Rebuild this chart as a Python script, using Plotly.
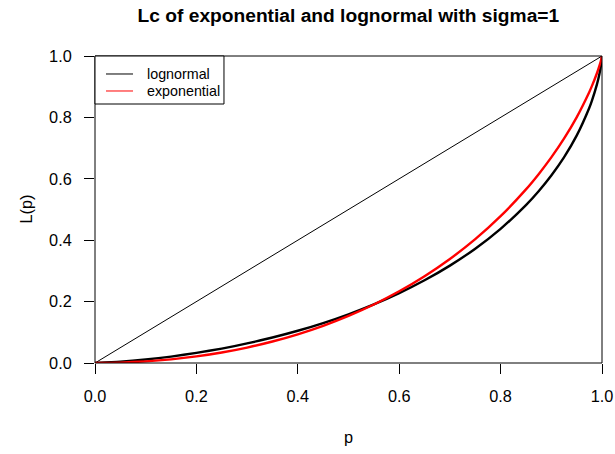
import plotly.graph_objects as go

# Population share p and the Lorenz curve values L(p) for each distribution
p = [0.0, 0.05, 0.1, 0.15, 0.2, 0.25, 0.3, 0.35, 0.4, 0.45, 0.5, 0.55, 0.6,
     0.65, 0.7, 0.75, 0.8, 0.85, 0.875, 0.9, 0.925, 0.95, 0.975, 0.98, 0.99,
     0.995, 0.999, 1.0]
lognormal = [0.0, 0.0041, 0.0113, 0.0209, 0.0328, 0.0470, 0.0637, 0.0830,
             0.1050, 0.1301, 0.1587, 0.1910, 0.2276, 0.2694, 0.3172, 0.3724,
             0.4371, 0.5145, 0.5597, 0.6109, 0.6698, 0.7405, 0.8315, 0.8540,
             0.9076, 0.9425, 0.9817, 1.0]
exponential = [0.0, 0.0013, 0.0052, 0.0119, 0.0215, 0.0342, 0.0503, 0.0700,
               0.0935, 0.1212, 0.1534, 0.1907, 0.2335, 0.2826, 0.3388, 0.4034,
               0.4781, 0.5654, 0.6151, 0.6697, 0.7307, 0.8002, 0.8828, 0.9018,
               0.9439, 0.9685, 0.9921, 1.0]
equality = [0.0, 1.0]

tick_vals = [0.0, 0.2, 0.4, 0.6, 0.8, 1.0]
tick_text = ["0.0", "0.2", "0.4", "0.6", "0.8", "1.0"]

legend_names = ["lognormal", "exponential"]
legend_colors = ["black", "#ff0000"]

FONT = "Liberation Sans, Arial, Helvetica, sans-serif"
AXIS_SIZE = 16.3

fig = go.Figure()

# line of perfect equality
fig.add_trace(go.Scatter(x=equality, y=equality, mode="lines",
                         line=dict(color="black", width=1),
                         showlegend=False, hoverinfo="skip"))
fig.add_trace(go.Scatter(x=p, y=lognormal, mode="lines", name="lognormal",
                         line=dict(color="black", width=2.4, shape="spline",
                                   smoothing=0.6),
                         showlegend=False))
fig.add_trace(go.Scatter(x=p, y=exponential, mode="lines", name="exponential",
                         line=dict(color="#ff0000", width=2.4, shape="spline",
                                   smoothing=0.6),
                         showlegend=False))

axis_common = dict(
    range=[0, 1], tickvals=tick_vals, ticktext=tick_text,
    ticks="outside", ticklen=10, tickwidth=1, tickcolor="black",
    showgrid=False, zeroline=False, showline=False, automargin=False,
    tickfont=dict(family=FONT, size=AXIS_SIZE, color="black"),
)

# boxed legend in the top-left corner of the plot area
shapes = [dict(type="rect", xref="paper", yref="paper", x0=0, y0=0, x1=1,
               y1=1, line=dict(color="black", width=1)),
          dict(type="rect", xref="paper", yref="paper", x0=0, y0=0.8436,
               x1=0.2544, y1=1, line=dict(color="black", width=1),
               fillcolor="white", layer="above")]
annotations = []
key_rows = [0.9414, 0.8860]
for name, color, yk in zip(legend_names, legend_colors, key_rows):
    shapes.append(dict(type="line", xref="paper", yref="paper", x0=0.0217,
                       x1=0.0750, y0=yk, y1=yk, layer="above",
                       line=dict(color=color, width=1)))
    annotations.append(dict(text=name, xref="paper", yref="paper", x=0.0986,
                            y=yk, xanchor="left", yanchor="middle",
                            showarrow=False,
                            font=dict(family=FONT, size=14.3, color="black")))

annotations += [
    dict(text="p", xref="paper", yref="paper", x=0.5, y=-0.241,
         showarrow=False, xanchor="center", yanchor="middle",
         font=dict(family=FONT, size=AXIS_SIZE)),
    dict(text="L(p)", xref="paper", yref="paper", x=-0.138, y=0.5,
         showarrow=False, textangle=-90, xanchor="center",
         yanchor="middle", font=dict(family=FONT, size=AXIS_SIZE)),
]

fig.update_layout(
    width=615, height=454,
    margin=dict(l=95, r=13, t=56, b=91),
    paper_bgcolor="white", plot_bgcolor="white",
    font=dict(family=FONT, size=AXIS_SIZE, color="black"),
    showlegend=False,
    xaxis=dict(**axis_common, ticklabelstandoff=8),
    yaxis=dict(**axis_common, ticklabelstandoff=9),
    title=dict(text="<b>Lc of exponential and lognormal with sigma=1</b>",
               x=0.5665, xanchor="center", y=0.967, yanchor="middle",
               font=dict(family=FONT, size=19.2, color="black")),
    shapes=shapes,
    annotations=annotations,
)

fig.write_html("out.html")
